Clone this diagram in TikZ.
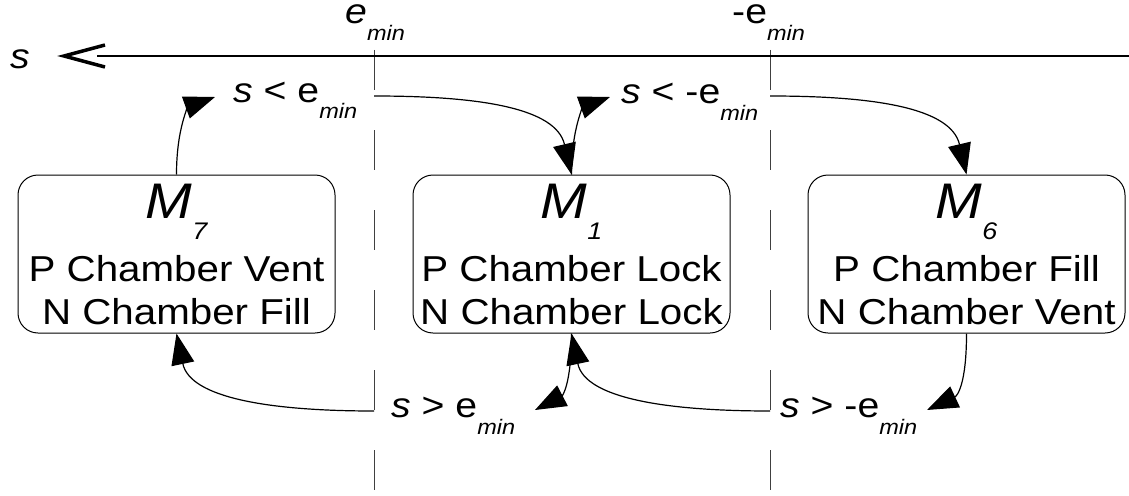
\documentclass[tikz,border=0pt]{standalone}
\usepackage{fontspec}
\setmainfont[FakeStretch=1.12]{Liberation Sans}
\usetikzlibrary{arrows.meta}
\newcommand{\lblsub}[1]{\raisebox{-17pt}{\fontsize{21}{21}\selectfont\itshape #1}}
\newcommand{\msub}[1]{\raisebox{-21pt}{\fontsize{24}{24}\selectfont\itshape #1}}
\begin{document}
\begin{tikzpicture}[x=1pt,y=-1pt,
  state/.style={draw, rounded corners=20pt, minimum width=317pt, minimum height=158pt, inner sep=0pt, line width=1pt},
  txt/.style={inner sep=0pt, anchor=base, font=\fontsize{36}{40}\selectfont},
  mtxt/.style={inner sep=0pt, anchor=base, font=\fontsize{50}{55}\selectfont\itshape},
  lbl/.style={inner sep=0pt, anchor=base west, font=\fontsize{35}{40}\selectfont},
  trans/.style={line width=1.2pt, -{Triangle[length=31pt,width=23pt]}},
  thr/.style={black!75, line width=1pt, dash pattern=on 40pt off 40pt}]
\useasboundingbox (0,0) rectangle (1129,495);
% thresholds
\draw[thr] (374,50) -- (374,495);
\draw[thr] (770,50) -- (770,495);
% axis
\draw[line width=1.2pt] (97,56) -- (1129,56);
\draw[line width=3.5pt, line join=miter] (105,45) -- (64,56) -- (105,67);
\node[lbl] (sax) at (10,68) {\textit{s}};
\node[lbl] (t1) at (345,24) {\textit{e}\lblsub{min}};
\node[lbl] (t2) at (732,24) {-e\lblsub{min}};
% states
\node[state] (m7) at (176.5,254) {};
\node[state] (m1) at (571.5,254) {};
\node[state] (m6) at (966.5,254) {};
\node[mtxt] (m7a) at (176.5,218) {M\msub{7}};
\node[txt] (m7b) at (176.5,281) {P Chamber Vent};
\node[txt] (m7c) at (176.5,324) {N Chamber Fill};
\node[mtxt] (m1a) at (571.5,218) {M\msub{1}};
\node[txt] (m1b) at (571.5,281) {P Chamber Lock};
\node[txt] (m1c) at (571.5,324) {N Chamber Lock};
\node[mtxt] (m6a) at (966.5,218) {M\msub{6}};
\node[txt] (m6b) at (966.5,281) {P Chamber Fill};
\node[txt] (m6c) at (966.5,324) {N Chamber Vent};
% labels
\node[lbl] (l1) at (233,102) {\textit{s} < e\lblsub{min}};
\node[lbl] (l2) at (621,103) {\textit{s} < -e\lblsub{min}};
\node[lbl] (l3) at (391,417) {\textit{s} > e\lblsub{min}};
\node[lbl] (l4) at (780,417) {\textit{s} > -e\lblsub{min}};
% coordinates
\coordinate (a1) at (215,97);
\coordinate (a2s) at (374,96);
\coordinate (a3) at (610,97);
\coordinate (a4s) at (770,96);
\coordinate (b1s) at (374,411);
\coordinate (b2) at (535,410);
\coordinate (b3s) at (770,411);
\coordinate (b4) at (927,410);
% transitions
\draw[trans] (m7.north) .. controls (176.5,125) and (190,106) .. (a1);
\draw[trans] (a2s) .. controls (480,96) and (556,108) .. (m1.north);
\draw[trans] (m1.north) .. controls (571.5,125) and (585,106) .. (a3);
\draw[trans] (a4s) .. controls (875,96) and (951,108) .. (m6.north);
\draw[trans] (b1s) .. controls (270,411) and (190,398) .. (m7.south);
\draw[trans] (m1.south) .. controls (571.5,385) and (562,396) .. (b2);
\draw[trans] (b3s) .. controls (665,411) and (585,398) .. (m1.south);
\draw[trans] (m6.south) .. controls (966.5,385) and (957,396) .. (b4);
\end{tikzpicture}
\end{document}
